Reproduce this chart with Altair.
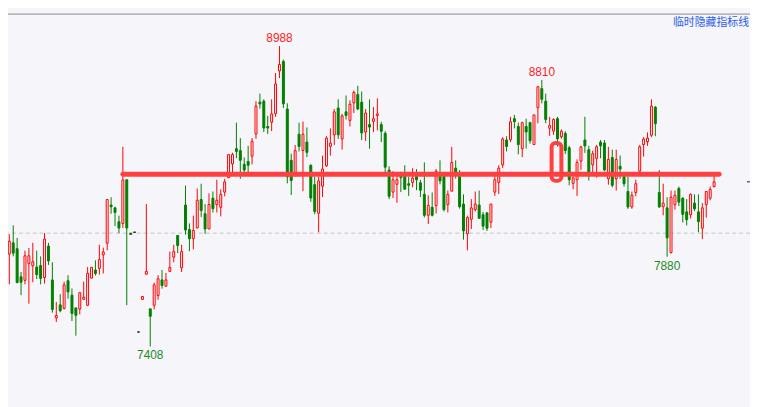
import altair as alt
import pandas as pd

# ---- candle data (price units), index k = trading bar ----
opens = [7894, 7953, 7922, 7775, 7756, 7844, 7832, 7826, 7834, 7771,
         7936, 7758, 7559, 7627, 7608, 7754, 7678, 7611, 7605, 7656,
         7625, 7768, 7810, 7819, 7890, 7951, 8152, 8137, 8064, 8055,
         8285, 8004, 8009, 7484, 7656, 7788, 7606, 7625, 7676, 7758,
         7725, 7803, 7878, 7992, 7822, 8152, 8023, 7975, 8031, 8181,
         8106, 8026, 8188, 8154, 8140, 8220, 8296, 8368, 8448, 8438,
         8366, 8381, 8409, 8526, 8693, 8698, 8565, 8587, 8633, 8857,
         8907, 8657, 8387, 8310, 8524, 8439, 8483, 8361, 8259, 8109,
         8251, 8358, 8461, 8521, 8662, 8500, 8642, 8597, 8689, 8733,
         8693, 8536, 8575, 8592, 8623, 8575, 8529, 8336, 8220, 8261,
         8302, 8302, 8264, 8271, 8302, 8269, 8208, 8098, 8140, 8149,
         8302, 8302, 8154, 8225, 8346, 8302, 8157, 8001, 8077, 8128,
         8152, 8101, 8111, 8062, 8220, 8271, 8363, 8494, 8495, 8606,
         8565, 8449, 8565, 8585, 8470, 8664, 8764, 8698, 8556, 8541,
         8606, 8511, 8529, 8453, 8266, 8285, 8383, 8494, 8443, 8363,
         8398, 8483, 8478, 8290, 8402, 8290, 8356, 8300, 8223, 8142,
         8218, 8330, 8470, 8485, 8519, 8667, 8218, 8143, 8137, 7902,
         8154, 8239, 8188, 8116, 8101, 8162, 8116, 8030, 8154, 8188,
         8249]
highs = [7999, 8045, 7979, 7800, 7912, 7926, 7953, 7912, 7882, 8004,
         7953, 7851, 7642, 7683, 7749, 7783, 7713, 7611, 7691, 7749,
         7826, 7824, 7861, 7943, 7928, 8181, 8193, 8143, 8096, 8458,
         8285, 8004, 8009, 7484, 7671, 8157, 7606, 7744, 7783, 7810,
         7795, 7907, 7943, 7992, 7943, 8254, 8055, 8096, 8239, 8264,
         8157, 8213, 8223, 8285, 8234, 8290, 8417, 8427, 8585, 8504,
         8402, 8463, 8504, 8698, 8738, 8708, 8621, 8708, 8846, 8988,
         8917, 8687, 8422, 8468, 8585, 8591, 8560, 8366, 8300, 8300,
         8412, 8514, 8555, 8657, 8708, 8631, 8728, 8703, 8754, 8779,
         8749, 8657, 8708, 8667, 8713, 8590, 8540, 8356, 8330, 8310,
         8327, 8361, 8300, 8346, 8341, 8285, 8376, 8203, 8218, 8341,
         8387, 8315, 8228, 8458, 8387, 8336, 8208, 8096, 8183, 8223,
         8228, 8116, 8111, 8157, 8310, 8361, 8509, 8514, 8616, 8626,
         8585, 8590, 8606, 8590, 8626, 8779, 8810, 8738, 8616, 8608,
         8616, 8550, 8540, 8463, 8300, 8392, 8463, 8616, 8463, 8438,
         8468, 8494, 8494, 8458, 8443, 8443, 8412, 8320, 8300, 8223,
         8285, 8468, 8509, 8534, 8708, 8672, 8336, 8264, 8193, 8228,
         8228, 8249, 8193, 8183, 8213, 8208, 8208, 8162, 8223, 8249,
         8305]
lows = [7735, 7882, 7741, 7678, 7735, 7633, 7746, 7763, 7735, 7739,
        7837, 7586, 7537, 7588, 7603, 7659, 7542, 7465, 7577, 7656,
        7620, 7766, 7781, 7786, 7792, 7914, 8106, 8041, 8004, 8031,
        7625, 7997, 8009, 7484, 7656, 7788, 7408, 7603, 7654, 7712,
        7725, 7803, 7851, 7899, 7800, 7996, 7909, 7919, 8031, 8089,
        8001, 8026, 8113, 8113, 8092, 8198, 8296, 8325, 8398, 8290,
        8325, 8325, 8366, 8500, 8659, 8536, 8526, 8541, 8616, 8820,
        8662, 8266, 8205, 8302, 8434, 8225, 8404, 8169, 8103, 8009,
        8194, 8353, 8412, 8468, 8500, 8444, 8602, 8565, 8636, 8652,
        8494, 8489, 8448, 8536, 8545, 8483, 8325, 8183, 8189, 8164,
        8220, 8235, 8200, 8245, 8230, 8194, 8087, 8052, 8092, 8108,
        8261, 8118, 8113, 8225, 8291, 8133, 7970, 7914, 8026, 8118,
        8082, 8021, 8016, 8031, 8200, 8210, 8347, 8434, 8483, 8555,
        8419, 8404, 8449, 8475, 8470, 8582, 8687, 8582, 8516, 8521,
        8460, 8500, 8421, 8256, 8235, 8200, 8337, 8426, 8281, 8322,
        8296, 8398, 8330, 8259, 8245, 8228, 8290, 8249, 8132, 8132,
        8198, 8320, 8407, 8463, 8509, 8514, 8137, 8098, 7880, 7897,
        8128, 8147, 8060, 8045, 8081, 8121, 8009, 7973, 8086, 8177,
        8244]
closes = [7962, 7899, 7744, 7746, 7885, 7885, 7854, 7786, 7766, 7973,
          7858, 7603, 7571, 7596, 7732, 7695, 7582, 7572, 7691, 7667,
          7793, 7824, 7792, 7865, 7905, 8181, 8143, 8113, 8031, 8283,
          8031, 7997, 8009, 7484, 7671, 7803, 7567, 7732, 7764, 7729,
          7758, 7824, 7907, 7939, 7907, 8021, 7975, 8018, 8177, 8123,
          8026, 8155, 8133, 8177, 8208, 8274, 8417, 8417, 8434, 8387,
          8336, 8361, 8487, 8672, 8684, 8557, 8557, 8631, 8789, 8891,
          8684, 8300, 8281, 8438, 8460, 8524, 8429, 8189, 8118, 8279,
          8341, 8504, 8478, 8642, 8521, 8621, 8623, 8682, 8744, 8657,
          8531, 8636, 8562, 8606, 8631, 8540, 8351, 8198, 8285, 8285,
          8296, 8235, 8256, 8293, 8285, 8230, 8098, 8150, 8098, 8330,
          8279, 8128, 8208, 8376, 8322, 8143, 8016, 8086, 8137, 8157,
          8082, 8041, 8030, 8157, 8285, 8346, 8499, 8460, 8590, 8590,
          8470, 8585, 8536, 8490, 8626, 8774, 8708, 8602, 8570, 8602,
          8500, 8540, 8439, 8285, 8295, 8376, 8458, 8463, 8317, 8422,
          8458, 8463, 8336, 8392, 8256, 8392, 8341, 8264, 8142, 8203,
          8264, 8458, 8499, 8504, 8672, 8580, 8142, 8162, 7979, 8193,
          8203, 8167, 8103, 8075, 8208, 8132, 8065, 8137, 8223, 8234,
          8274]

# annotation values
high_labels = ["8988", "8810"]
high_label_bars = [69, 136]
high_label_prices = [8988, 8810]
low_labels = ["7408", "7880"]
low_label_bars = [36, 168]
low_label_prices = [7408, 7880]

ref_dashed_level = 8004          # grey dashed level
support_level = 8314             # thick red drawn line
support_from_bar = 29.0
support_to_bar = 181.3
box_bars = [138.5, 141.0]        # red rounded box (bars)
box_prices = [8279, 8478]        # red rounded box (prices)
last_price = closes[-1]
corner_text = "临时隐藏指标线"

BG = "#f5f5fa"
W, H = 750, 399

n = len(opens)
df = pd.DataFrame({"k": list(range(n)), "open": opens, "high": highs,
                   "low": lows, "close": closes})
df["dir"] = ["up" if c > o else ("down" if c < o else "flat")
             for o, c in zip(opens, closes)]
df["x0"] = df["k"] - 0.25
df["x1"] = df["k"] + 0.25

xs = alt.Scale(domain=[-0.333, 189.17], nice=False, zero=False)
ys = alt.Scale(domain=[7101, 9177], nice=False, zero=False)

col_dom = ["up", "down", "flat"]
stroke_scale = alt.Scale(domain=col_dom, range=["#ff0000", "#008000", "#000000"])
fill_scale = alt.Scale(domain=col_dom, range=[BG, "#008000", "#000000"])

top_border = alt.Chart(pd.DataFrame({"a": [0]})).mark_rule(
    color="#8a8a8a", strokeWidth=1).encode(y=alt.value(4))

dashed = alt.Chart(pd.DataFrame({"lvl": [ref_dashed_level]})).mark_rule(
    color="#c4c4c8", strokeWidth=1, strokeDash=[4, 3]).encode(
    y=alt.Y("lvl:Q", scale=ys, axis=None))

wicks = alt.Chart(df).mark_rule(strokeWidth=1).encode(
    x=alt.X("k:Q", scale=xs, axis=None),
    y=alt.Y("low:Q", scale=ys, axis=None),
    y2="high:Q",
    color=alt.Color("dir:N", scale=stroke_scale, legend=None))

bodies = alt.Chart(df).mark_rect(strokeWidth=1).encode(
    x=alt.X("x0:Q", scale=xs, axis=None),
    x2="x1:Q",
    y=alt.Y("open:Q", scale=ys, axis=None),
    y2="close:Q",
    fill=alt.Fill("dir:N", scale=fill_scale, legend=None),
    stroke=alt.Stroke("dir:N", scale=stroke_scale, legend=None))

support = alt.Chart(pd.DataFrame({"a": [support_from_bar], "b": [support_to_bar],
                                  "p": [support_level]})).mark_rule(
    color="#ff4040", strokeWidth=5, strokeCap="round").encode(
    x=alt.X("a:Q", scale=xs, axis=None), x2="b:Q",
    y=alt.Y("p:Q", scale=ys, axis=None))

box = alt.Chart(pd.DataFrame({"a": [box_bars[0]], "b": [box_bars[1]],
                              "p": [box_prices[0]], "q": [box_prices[1]]})).mark_rect(
    filled=False, stroke="#ff4040", strokeWidth=4, cornerRadius=4).encode(
    x=alt.X("a:Q", scale=xs, axis=None), x2="b:Q",
    y=alt.Y("p:Q", scale=ys, axis=None), y2="q:Q")

hl = pd.DataFrame({"k": high_label_bars, "p": high_label_prices, "t": high_labels})
ll = pd.DataFrame({"k": low_label_bars, "p": low_label_prices, "t": low_labels})

high_text = alt.Chart(hl).mark_text(
    font="Liberation Sans", fontSize=12, color="#ff2222", baseline="alphabetic",
    align="center", dy=-4).encode(
    x=alt.X("k:Q", scale=xs, axis=None), y=alt.Y("p:Q", scale=ys, axis=None), text="t:N")

low_text = alt.Chart(ll).mark_text(
    font="Liberation Sans", fontSize=12, color="#1f8a1f", baseline="alphabetic",
    align="center", dy=13).encode(
    x=alt.X("k:Q", scale=xs, axis=None), y=alt.Y("p:Q", scale=ys, axis=None), text="t:N")

last_tick = alt.Chart(pd.DataFrame({"a": [188.4], "b": [189.3], "p": [last_price]})).mark_rule(
    color="#14146e", strokeWidth=1).encode(
    x=alt.X("a:Q", scale=xs, axis=None), x2="b:Q",
    y=alt.Y("p:Q", scale=ys, axis=None))

corner = alt.Chart(pd.DataFrame({"t": [corner_text]})).mark_text(
    font="Noto Sans CJK SC", fontSize=11, color="#2a5ee8", align="right",
    baseline="middle").encode(x=alt.value(749), y=alt.value(12.7), text="t:N")

chart = alt.layer(
    top_border, dashed, wicks, bodies, support, box, high_text, low_text, last_tick, corner
).properties(
    width=W, height=H,
    autosize=alt.AutoSizeParams(type="none"),
    padding=0,
    background=BG,
).configure_view(stroke=None)

chart.save("out.html", embed_options={"renderer": "svg", "actions": False})
